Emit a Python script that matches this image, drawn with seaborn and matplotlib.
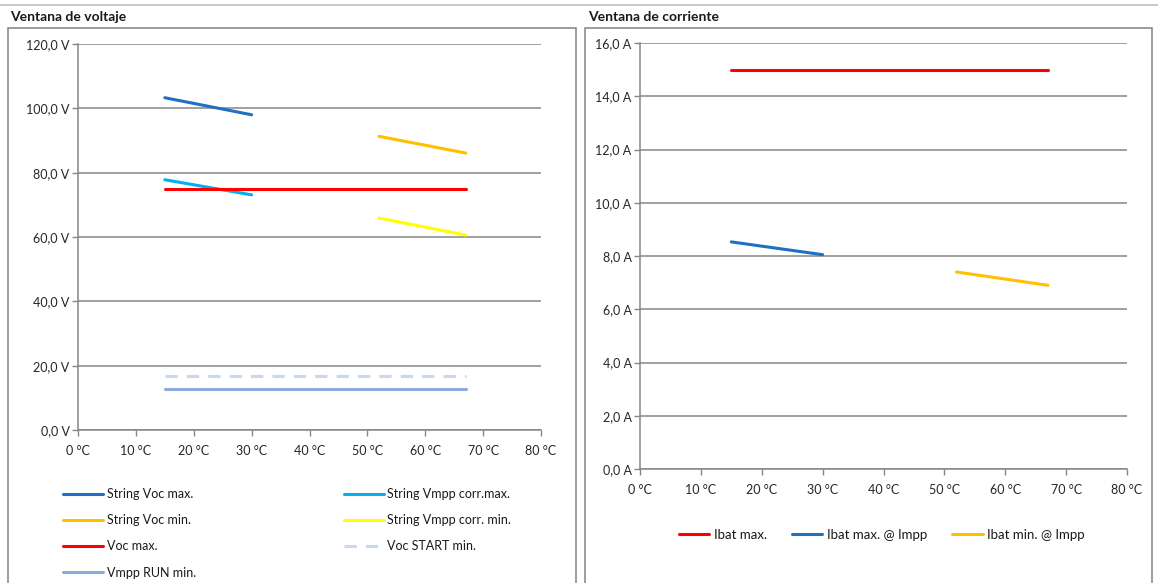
import matplotlib
matplotlib.use('Agg')
import matplotlib.pyplot as plt
import seaborn as sns
import pandas as pd
from matplotlib.patches import Rectangle
from matplotlib.lines import Line2D
from matplotlib.ticker import FuncFormatter, MultipleLocator

# temperatures (degC)
temp_cold = [15, 30]
temp_hot = [52, 67]
temp_full = [15, 67]

# voltage window (V)
string_voc_max = [103.3, 98.0]
string_vmpp_corr_max = [77.8, 73.1]
string_voc_min = [91.3, 86.1]
string_vmpp_corr_min = [65.9, 60.6]
voc_max = [75.0, 75.0]
voc_start_min = [16.8, 16.8]
vmpp_run_min = [12.8, 12.8]

# current window (A)
ibat_max = [15.0, 15.0]
ibat_max_impp = [8.53, 8.05]
ibat_min_impp = [7.4, 6.9]

volt_series = [
    ('String Voc max.', temp_cold, string_voc_max, '#1f70c1', '-'),
    ('String Vmpp corr.max.', temp_cold, string_vmpp_corr_max, '#00b0f0', '-'),
    ('String Voc min.', temp_hot, string_voc_min, '#ffc000', '-'),
    ('String Vmpp corr. min.', temp_hot, string_vmpp_corr_min, '#ffff00', '-'),
    ('Voc max.', temp_full, voc_max, '#ff0000', '-'),
    ('Voc START min.', temp_full, voc_start_min, '#c6d9f1', '--'),
    ('Vmpp RUN min.', temp_full, vmpp_run_min, '#8eaadb', '-'),
]
curr_series = [
    ('Ibat max.', temp_full, ibat_max, '#ff0000', '-'),
    ('Ibat max. @ Impp', temp_cold, ibat_max_impp, '#1f70c1', '-'),
    ('Ibat min. @ Impp', temp_hot, ibat_min_impp, '#ffc000', '-'),
]

sns.set_theme(style='white')
plt.rcParams['font.family'] = ['Lato', 'DejaVu Sans']
plt.rcParams['text.color'] = '#1a1a1a'

W, H = 1158, 583
fig = plt.figure(figsize=(W / 100, H / 100), dpi=100)


def fx(px):
    return px / W


def fy(py):
    return 1 - py / H


# frame decorations
fig.add_artist(Line2D([0, 1], [fy(5), fy(5)], color='#bfbfbf', lw=1.2))
fig.add_artist(Rectangle((fx(8), fy(590)), fx(576 - 8), fy(28) - fy(590),
                         fill=False, ec='#8c8c8c', lw=1.2))
fig.add_artist(Rectangle((fx(585), fy(590)), fx(1152 - 585), fy(28) - fy(590),
                         fill=False, ec='#8c8c8c', lw=1.2))
fig.text(fx(10), fy(17), 'Ventana de voltaje', fontsize=10, fontweight='bold',
         va='center', ha='left')
fig.text(fx(588), fy(17), 'Ventana de corriente', fontsize=10, fontweight='bold',
         va='center', ha='left')

ax1 = fig.add_axes([fx(78), fy(430), fx(541 - 78), fy(44) - fy(430)])
ax2 = fig.add_axes([fx(640), fy(469), fx(1127 - 640), fy(43) - fy(469)])


def draw(ax, series):
    handles = {}
    for name, xs, ys, col, ls in series:
        df = pd.DataFrame({'t': xs, 'v': ys})
        sns.lineplot(data=df, x='t', y='v', ax=ax, color=col, lw=2.2,
                     linestyle=ls, legend=False)
        ln = ax.get_lines()[-1]
        if ls == '--':
            ln.set_dashes((4, 3))
        handles[name] = ln
    return handles


def style(ax, ymax, ystep, unit):
    ax.set_xlim(0, 80)
    ax.set_ylim(0, ymax)
    ax.xaxis.set_major_locator(MultipleLocator(10))
    ax.yaxis.set_major_locator(MultipleLocator(ystep))
    ax.xaxis.set_major_formatter(FuncFormatter(lambda v, p: f'{v:.0f} °C'))
    ax.yaxis.set_major_formatter(
        FuncFormatter(lambda v, p: f'{v:.1f}'.replace('.', ',') + f' {unit}'))
    ax.grid(axis='y', color='#868686', lw=1.1)
    ax.set_axisbelow(True)
    for s in ['top', 'right']:
        ax.spines[s].set_visible(False)
    for s in ['left', 'bottom']:
        ax.spines[s].set_color('#868686')
        ax.spines[s].set_linewidth(1.1)
    ax.tick_params(axis='both', which='major', length=4, width=1, color='#868686',
                   labelsize=9, direction='out', bottom=True, left=True)
    ax.tick_params(axis='x', pad=7)
    ax.tick_params(axis='y', pad=2)
    ax.set_xlabel('')
    ax.set_ylabel('')


h1 = draw(ax1, volt_series)
style(ax1, 120, 20, 'V')
h2 = draw(ax2, curr_series)
style(ax2, 16, 2, 'A')

order1 = ['String Voc max.', 'String Voc min.', 'Voc max.', 'Vmpp RUN min.',
          'String Vmpp corr.max.', 'String Vmpp corr. min.', 'Voc START min.']
fig.legend([h1[k] for k in order1], order1, loc='upper left',
           bbox_to_anchor=(fx(58), fy(483)), ncol=2, frameon=False, fontsize=9,
           handlelength=3.2, handletextpad=0.3, columnspacing=11.8,
           labelspacing=1.14, borderaxespad=0)

order2 = ['Ibat max.', 'Ibat max. @ Impp', 'Ibat min. @ Impp']
fig.legend([h2[k] for k in order2], order2, loc='center',
           bbox_to_anchor=(fx(882), fy(535)), ncol=3, frameon=False, fontsize=9.5,
           handlelength=2.3, handletextpad=0.35, columnspacing=1.9,
           borderaxespad=0)

fig.savefig('out.png', dpi=100)
